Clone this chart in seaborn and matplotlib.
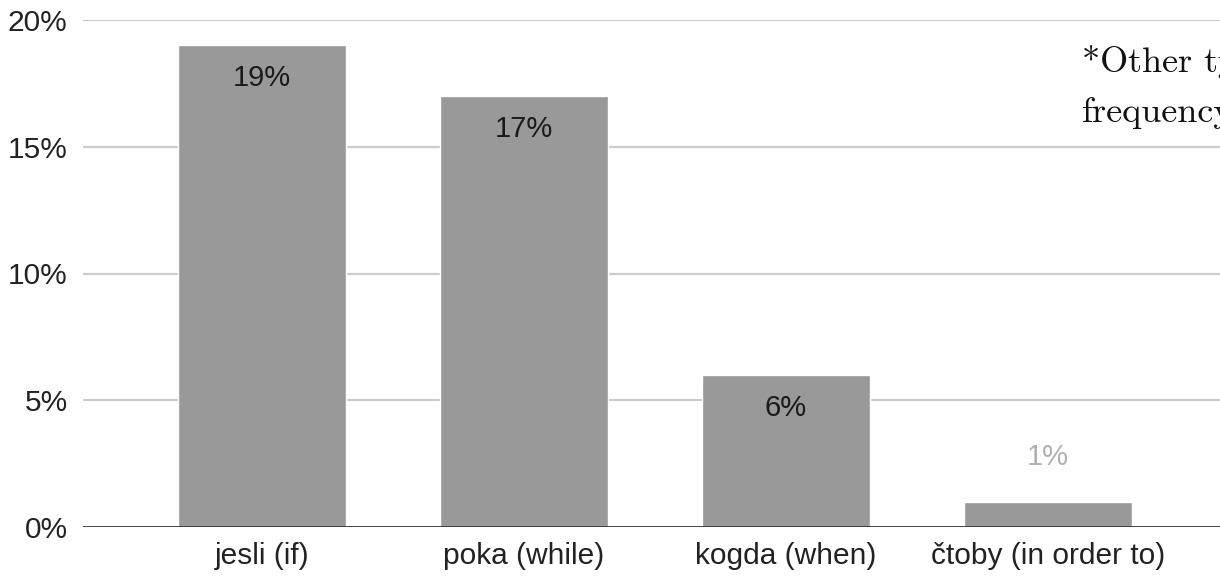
import matplotlib
matplotlib.use("Agg")
import matplotlib.pyplot as plt
import seaborn as sns
import pandas as pd

categories = ["jesli (if)", "poka (while)", "kogda (when)", "čtoby (in order to)"]
shares = [19, 17, 6, 1]
value_labels = ["19%", "17%", "6%", "1%"]
y_ticks = [0, 5, 10, 15, 20]
y_tick_labels = ["0%", "5%", "10%", "15%", "20%"]
note_lines = ["*Other types", "frequency"]

sns.set_theme(style="white")
plt.rcParams["font.family"] = ["Liberation Sans", "DejaVu Sans"]

df = pd.DataFrame({"conjunction": categories, "share": shares})

fig = plt.figure(figsize=(12.2, 5.77), dpi=100)
ax = fig.add_axes([83 / 1220, 50 / 577, 1 - 83 / 1220, 507 / 577])

ax.set_axisbelow(True)
for t in y_ticks[1:]:
    ax.axhline(t, color="#cccccc", linewidth=1.6, zorder=0)

sns.barplot(data=df, x="conjunction", y="share", color="#999999",
            saturation=1, width=0.64, ax=ax, zorder=2)

ax.axhline(0, color="#333333", linewidth=2, zorder=3)

ax.set_ylim(0, 20)
ax.set_xlim(-0.683, 3.656)
ax.set_yticks(y_ticks)
ax.set_yticklabels(y_tick_labels)
ax.tick_params(axis="both", length=0, labelsize=21.5, colors="#222222")
ax.tick_params(axis="y", pad=11)
ax.tick_params(axis="x", pad=11)
ax.set_xlabel("")
ax.set_ylabel("")
for s in ax.spines.values():
    s.set_visible(False)

for i, (v, lab) in enumerate(zip(shares, value_labels)):
    if v >= 3:
        ax.annotate(lab, (i, v), xytext=(0, -23.5), textcoords="offset points",
                    ha="center", va="center", fontsize=21, color="#1a1a1a",
                    zorder=4)
    else:
        ax.annotate(lab, (i, v), xytext=(0, 32), textcoords="offset points",
                    ha="center", va="center", fontsize=21, color="#b0b0b0",
                    zorder=4)

fig.text(1082 / 1220, 1 - 72 / 577, note_lines[0], family="cmr10",
         fontsize=26, color="#111111", ha="left", va="baseline")
fig.text(1082 / 1220, 1 - 122 / 577, note_lines[1], family="cmr10",
         fontsize=26, color="#111111", ha="left", va="baseline")

fig.savefig("out.png", dpi=100)
